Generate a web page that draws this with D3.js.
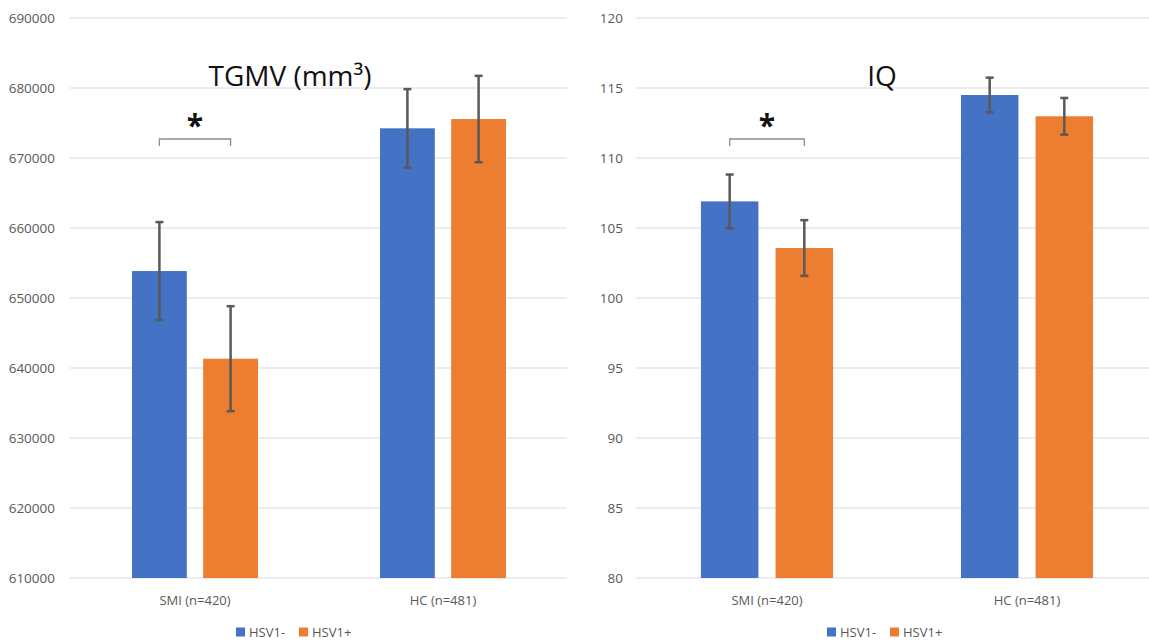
<!DOCTYPE html>
<html>
<head>
<meta charset="utf-8">
<script src="https://cdn.jsdelivr.net/npm/d3@7"></script>
<style>
  body { margin: 0; background: #fff; }
  svg { display: block; }
</style>
</head>
<body>
<div id="chart"></div>
<script>
// Data
const categories = ["SMI (n=420)", "HC (n=481)"];
const seriesNames = ["HSV1-", "HSV1+"];
const seriesColors = ["#4472C4", "#ED7D31"];

const tgmvNeg = [653850, 674240];
const tgmvPos = [641330, 675570];
const tgmvErrNeg = [7000, 5600];
const tgmvErrPos = [7500, 6170];
const tgmvDomain = [610000, 690000];

const iqNeg = [106.9, 114.5];
const iqPos = [103.57, 112.98];
const iqErrNeg = [1.92, 1.24];
const iqErrPos = [1.99, 1.31];
const iqDomain = [80, 120];

const W = 1149, H = 642;
const font = "'Open Sans', sans-serif";

const svg = d3.select("#chart").append("svg")
    .attr("width", W)
    .attr("height", H)
    .attr("font-family", font);

const panels = [
    {
        title: "TGMV (mm³)", titleX: 290,
        values: [tgmvNeg, tgmvPos], errors: [tgmvErrNeg, tgmvErrPos],
        domain: tgmvDomain, xRange: [71, 567], labelX: 55, legendX: 236,
        sig: 0
    },
    {
        title: "IQ", titleX: 882,
        values: [iqNeg, iqPos], errors: [iqErrNeg, iqErrPos],
        domain: iqDomain, xRange: [637, 1157], labelX: 623, legendX: 827,
        sig: 0
    }
];

const yRange = [578, 18];
const groupPad = 0.492;

panels.forEach(p => {
    const g = svg.append("g");

    const y = d3.scaleLinear().domain(p.domain).range(yRange);
    const x0 = d3.scaleBand().domain(categories).range(p.xRange)
        .paddingInner(groupPad).paddingOuter(groupPad / 2);
    const x1 = d3.scaleBand().domain(seriesNames).range([0, x0.bandwidth()])
        .paddingInner(0.23).paddingOuter(0);

    // gridlines + tick labels
    const ticks = y.ticks(8);
    g.selectAll(".grid").data(ticks).join("line")
        .attr("class", "grid")
        .attr("x1", p.xRange[0] - 1).attr("x2", p.xRange[1])
        .attr("y1", d => y(d)).attr("y2", d => y(d))
        .attr("stroke", "#d9d9d9").attr("stroke-width", 1);

    g.selectAll(".ytick").data(ticks).join("text")
        .attr("class", "ytick")
        .attr("x", p.labelX).attr("y", d => y(d))
        .attr("text-anchor", "end").attr("dominant-baseline", "central")
        .attr("font-size", 13.5).attr("fill", "#595959")
        .text(d => d);

    // bars
    const rows = [];
    categories.forEach((c, ci) => {
        seriesNames.forEach((s, si) => {
            rows.push({ c, s, si, v: p.values[si][ci], e: p.errors[si][ci] });
        });
    });

    g.selectAll(".bar").data(rows).join("rect")
        .attr("class", "bar")
        .attr("x", d => x0(d.c) + x1(d.s))
        .attr("width", x1.bandwidth())
        .attr("y", d => y(d.v))
        .attr("height", d => y(p.domain[0]) - y(d.v))
        .attr("fill", d => seriesColors[d.si]);

    // error bars
    const eb = g.selectAll(".err").data(rows).join("g").attr("class", "err")
        .attr("transform", d => `translate(${x0(d.c) + x1(d.s) + x1.bandwidth() / 2},0)`)
        .attr("stroke", "#595959").attr("stroke-width", 2.5);
    eb.append("line")
        .attr("y1", d => y(d.v + d.e)).attr("y2", d => y(d.v - d.e));
    eb.append("line").attr("x1", -4).attr("x2", 4)
        .attr("y1", d => y(d.v + d.e)).attr("y2", d => y(d.v + d.e));
    eb.append("line").attr("x1", -4).attr("x2", 4)
        .attr("y1", d => y(d.v - d.e)).attr("y2", d => y(d.v - d.e));

    // category labels
    g.selectAll(".xlab").data(categories).join("text")
        .attr("class", "xlab")
        .attr("x", d => x0(d) + x0.bandwidth() / 2)
        .attr("y", 600)
        .attr("text-anchor", "middle").attr("dominant-baseline", "central")
        .attr("font-size", 13).attr("fill", "#595959")
        .text(d => d);

    // title
    g.append("text")
        .attr("x", p.titleX).attr("y", 86)
        .attr("text-anchor", "middle")
        .attr("font-size", 28).attr("fill", "#111")
        .text(p.title);

    // significance bracket over first category
    const c = categories[p.sig];
    const bx1 = x0(c) + x1(seriesNames[0]) + x1.bandwidth() / 2;
    const bx2 = x0(c) + x1(seriesNames[1]) + x1.bandwidth() / 2;
    g.append("path")
        .attr("d", `M${bx1},146 V139 H${bx2} V146`)
        .attr("fill", "none").attr("stroke", "#8c8c8c").attr("stroke-width", 1.3);
    g.append("text")
        .attr("x", (bx1 + bx2) / 2).attr("y", 136)
        .attr("text-anchor", "middle")
        .attr("font-size", 30).attr("font-weight", "bold").attr("fill", "#111")
        .text("*");

    // legend
    const lg = g.append("g").attr("transform", `translate(${p.legendX},632)`);
    let lx = 0;
    seriesNames.forEach((s, i) => {
        lg.append("rect").attr("x", lx).attr("y", -4.5).attr("width", 9).attr("height", 9)
            .attr("fill", seriesColors[i]);
        lg.append("text").attr("x", lx + 13).attr("y", 0)
            .attr("dominant-baseline", "central")
            .attr("font-size", 13).attr("fill", "#595959").text(s);
        lx += 63;
    });
});
</script>
</body>
</html>
